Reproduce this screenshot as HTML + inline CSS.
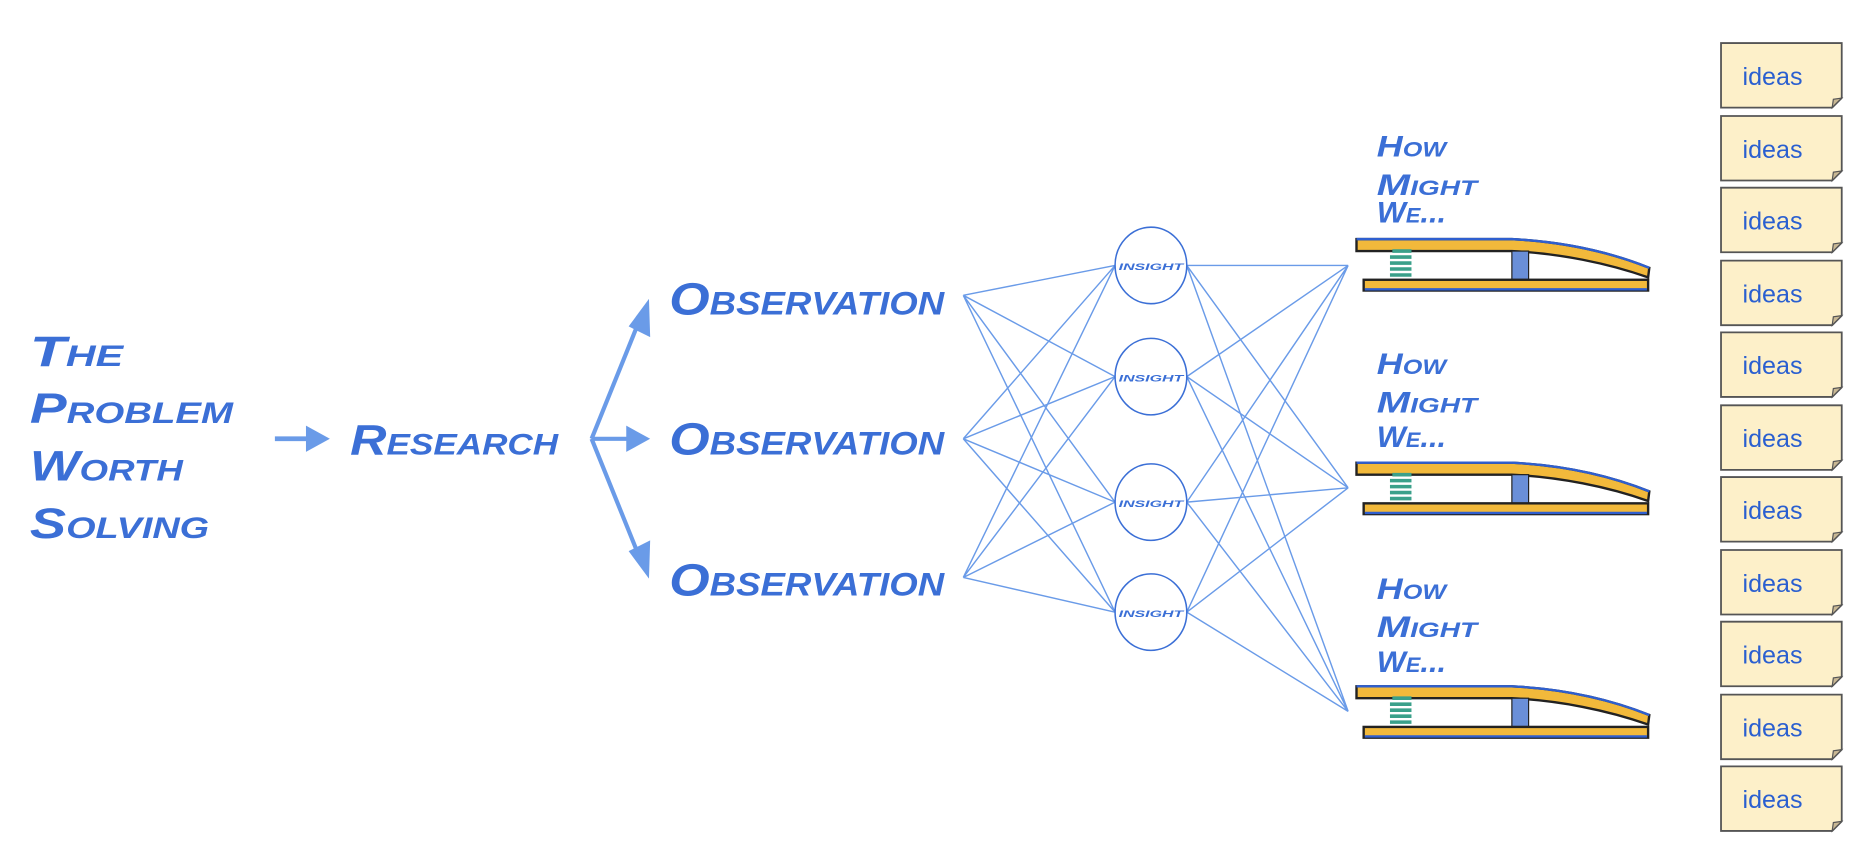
<!DOCTYPE html>
<html><head><meta charset="utf-8"><style>
html,body{margin:0;padding:0;background:#fff;}
svg{display:block}
.h{font-family:"Liberation Sans",sans-serif;font-weight:bold;font-style:italic;fill:#3b6fd6;font-variant:small-caps;}
.i{font-family:"Liberation Sans",sans-serif;fill:#2a5fd0;font-size:21px}
</style></head><body>
<svg width="1874" height="868" viewBox="0 0 1568 726" preserveAspectRatio="none" xmlns="http://www.w3.org/2000/svg">
<defs>
<g id="note">
<path d="M0,0 H101 V46 L93,54 H0 Z" fill="#fdf0c9" stroke="#555" stroke-width="1.5"/>
<path d="M93,54 L94,47 L101,46 Z" fill="#c9b894" stroke="#555" stroke-width="1"/>
<text class="i" x="18" y="35">ideas</text>
</g>
<g id="clip">
<path d="M0,4 H130 C170,6 210,14 245,28 L244,36 C210,24 170,16 130,14 H0 Z" fill="#f2b93b" stroke="#222" stroke-width="2"/>
<path d="M0,4 H130 C170,6 210,14 245,28" fill="none" stroke="#2f5fcf" stroke-width="2"/>
<rect x="130" y="14" width="14" height="24" fill="#6a8fd8" stroke="#222" stroke-width="1"/>
<path d="M30,14 h16 M28,19 h18 M28,24 h18 M28,29 h18 M28,34 h18" stroke="#3aa08a" stroke-width="3" fill="none"/>
<rect x="6" y="38" width="238" height="9" fill="#f2b93b" stroke="#222" stroke-width="2"/>
<line x1="7" y1="46" x2="243" y2="46" stroke="#2f5fcf" stroke-width="2"/>
</g>
</defs>
<text class="h" font-size="36" x="25" y="306" textLength="78" lengthAdjust="spacingAndGlyphs">The</text>
<text class="h" font-size="36" x="25" y="354" textLength="170" lengthAdjust="spacingAndGlyphs">Problem</text>
<text class="h" font-size="36" x="25" y="402" textLength="128" lengthAdjust="spacingAndGlyphs">Worth</text>
<text class="h" font-size="36" x="25" y="450" textLength="150" lengthAdjust="spacingAndGlyphs">Solving</text>
<line x1="230" y1="367" x2="258" y2="367" stroke="#6a9be8" stroke-width="4"/>
<polygon points="256,356 276,367 256,378" fill="#6a9be8"/>
<text class="h" font-size="36" x="293" y="380" textLength="174" lengthAdjust="spacingAndGlyphs">Research</text>
<g stroke="#6a9be8" stroke-width="3.5" fill="none">
<line x1="495" y1="367" x2="535" y2="268"/>
<line x1="495" y1="367" x2="527" y2="367"/>
<line x1="495" y1="367" x2="535" y2="466"/>
</g>
<polygon points="543,250 544,282 526,273" fill="#6a9be8"/>
<polygon points="524,356 544,367 524,378" fill="#6a9be8"/>
<polygon points="543,484 526,461 544,452" fill="#6a9be8"/>
<text class="h" font-size="38" x="560" y="263" textLength="230" lengthAdjust="spacingAndGlyphs">Observation</text>
<text class="h" font-size="38" x="560" y="380" textLength="230" lengthAdjust="spacingAndGlyphs">Observation</text>
<text class="h" font-size="38" x="560" y="498" textLength="230" lengthAdjust="spacingAndGlyphs">Observation</text>
<g stroke="#6a9be8" stroke-width="1.2" fill="none">
<path d="M806,247 L933,222 M806,247 L933,315 M806,247 L933,420 M806,247 L933,512
M806,367 L933,222 M806,367 L933,315 M806,367 L933,420 M806,367 L933,512
M806,483 L933,222 M806,483 L933,315 M806,483 L933,420 M806,483 L933,512
M993,222 L1128,222 M993,222 L1128,408 M993,222 L1128,595
M993,315 L1128,222 M993,315 L1128,408 M993,315 L1128,595
M993,420 L1128,222 M993,420 L1128,408 M993,420 L1128,595
M993,512 L1128,222 M993,512 L1128,408 M993,512 L1128,595"/>
</g>
<g fill="#fff" stroke="#3b6fd6" stroke-width="1.3">
<ellipse cx="963" cy="222" rx="30" ry="32"/><ellipse cx="963" cy="315" rx="30" ry="32"/>
<ellipse cx="963" cy="420" rx="30" ry="32"/><ellipse cx="963" cy="512" rx="30" ry="32"/>
</g>
<g class="h" font-size="11">
<text x="936" y="226" textLength="54" lengthAdjust="spacingAndGlyphs">insight</text>
<text x="936" y="319" textLength="54" lengthAdjust="spacingAndGlyphs">insight</text>
<text x="936" y="424" textLength="54" lengthAdjust="spacingAndGlyphs">insight</text>
<text x="936" y="516" textLength="54" lengthAdjust="spacingAndGlyphs">insight</text>
</g>
<g class="h" font-size="25">
<text x="1152" y="131" textLength="58" lengthAdjust="spacingAndGlyphs">How</text>
<text x="1152" y="163" textLength="84" lengthAdjust="spacingAndGlyphs">Might</text>
<text x="1152" y="186" textLength="58" lengthAdjust="spacingAndGlyphs">We...</text>
<text x="1152" y="313" textLength="58" lengthAdjust="spacingAndGlyphs">How</text>
<text x="1152" y="345" textLength="84" lengthAdjust="spacingAndGlyphs">Might</text>
<text x="1152" y="374" textLength="58" lengthAdjust="spacingAndGlyphs">We...</text>
<text x="1152" y="501" textLength="58" lengthAdjust="spacingAndGlyphs">How</text>
<text x="1152" y="533" textLength="84" lengthAdjust="spacingAndGlyphs">Might</text>
<text x="1152" y="562" textLength="58" lengthAdjust="spacingAndGlyphs">We...</text>
</g>
<use href="#clip" x="1135" y="196"/>
<use href="#clip" x="1135" y="383"/>
<use href="#clip" x="1135" y="570"/>
<use href="#note" x="1440" y="36"/><use href="#note" x="1440" y="97"/>
<use href="#note" x="1440" y="157"/><use href="#note" x="1440" y="218"/>
<use href="#note" x="1440" y="278"/><use href="#note" x="1440" y="339"/>
<use href="#note" x="1440" y="399"/><use href="#note" x="1440" y="460"/>
<use href="#note" x="1440" y="520"/><use href="#note" x="1440" y="581"/>
<use href="#note" x="1440" y="641"/>
</svg>
</body></html>
